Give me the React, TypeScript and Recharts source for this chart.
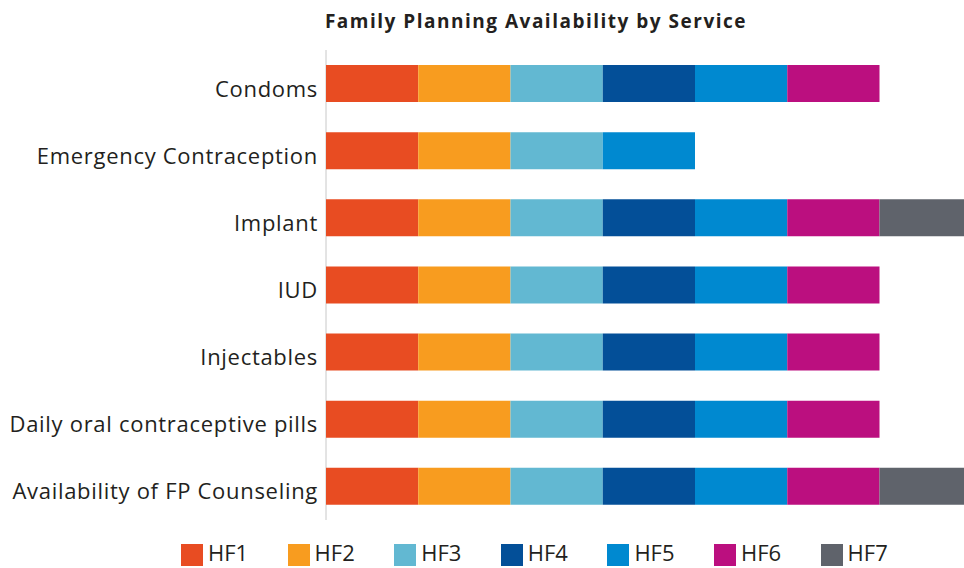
import { BarChart, Bar, XAxis, YAxis, CartesianGrid } from "recharts";

const SERVICES = [
  "Condoms",
  "Emergency Contraception",
  "Implant",
  "IUD",
  "Injectables",
  "Daily oral contraceptive pills",
  "Availability of FP Counseling",
];

// 1 = available at that facility, 0 = not
const HF1 = [1, 1, 1, 1, 1, 1, 1];
const HF2 = [1, 1, 1, 1, 1, 1, 1];
const HF3 = [1, 1, 1, 1, 1, 1, 1];
const HF4 = [1, 0, 1, 1, 1, 1, 1];
const HF5 = [1, 1, 1, 1, 1, 1, 1];
const HF6 = [1, 0, 1, 1, 1, 1, 1];
const HF7 = [0, 0, 1, 0, 0, 0, 1];

const X_TICKS = [0, 2, 4, 6, 8];

const SERIES = [
  { key: "HF1", values: HF1, color: "#e84c22" },
  { key: "HF2", values: HF2, color: "#f89c1f" },
  { key: "HF3", values: HF3, color: "#62b8d2" },
  { key: "HF4", values: HF4, color: "#034f98" },
  { key: "HF5", values: HF5, color: "#0089d0" },
  { key: "HF6", values: HF6, color: "#bb0f7f" },
  { key: "HF7", values: HF7, color: "#5f636b" },
];

const data = SERVICES.map((name, i) => {
  const row: Record<string, string | number> = { name };
  SERIES.forEach((s) => {
    row[s.key] = s.values[i];
  });
  return row;
});

const FONT = "'Open Sans', sans-serif";
const TEXT = "#231f20";

// eslint-disable-next-line @typescript-eslint/no-explicit-any
function ServiceTick({ x, y, payload }: any) {
  return (
    <text
      x={x}
      y={y}
      dy={13}
      textAnchor="end"
      fontSize={22}
      fill={TEXT}
      fontFamily={FONT}
      fontWeight={500}
      letterSpacing={0.7}
    >
      {payload.value}
    </text>
  );
}

export default function App() {
  return (
    <div
      style={{
        position: "fixed",
        top: 0,
        left: 0,
        width: 964,
        height: 568,
        overflow: "hidden",
        background: "#fff",
        fontFamily: FONT,
      }}
    >
      <div
        style={{
          position: "absolute",
          top: 8,
          left: 0,
          width: 1072,
          textAlign: "center",
          fontSize: 19,
          fontWeight: 700,
          letterSpacing: 1.5,
          color: TEXT,
        }}
      >
        Family Planning Availability by Service
      </div>
      <BarChart
        width={1064}
        height={568}
        data={data}
        layout="vertical"
        margin={{ top: 50, right: 0, left: 0, bottom: 48 }}
        barSize={37}
      >
        <CartesianGrid horizontal={false} stroke="#c8c8c8" />
        <XAxis
          type="number"
          domain={[0, 8]}
          ticks={X_TICKS}
          tick={false}
          tickLine={false}
          axisLine={false}
          height={0}
        />
        <YAxis
          type="category"
          dataKey="name"
          width={326}
          tickLine={false}
          axisLine={false}
          tick={<ServiceTick />}
        />
        {SERIES.map((s) => (
          <Bar
            key={s.key}
            dataKey={s.key}
            stackId="a"
            fill={s.color}
            isAnimationActive={false}
          />
        ))}
      </BarChart>
      {/* legend: swatches sit a little below the text box top */}
      <div
        style={{
          position: "absolute",
          top: 537,
          left: 181,
          display: "flex",
        }}
      >
        {SERIES.map((s) => (
          <div
            key={s.key}
            style={{ width: 106.6, display: "flex", alignItems: "flex-start" }}
          >
            <div
              style={{
                width: 22,
                height: 22,
                marginTop: 7,
                background: s.color,
                marginRight: 5,
              }}
            />
            <span style={{ fontSize: 22, color: TEXT, fontWeight: 500 }}>
              {s.key}
            </span>
          </div>
        ))}
      </div>
    </div>
  );
}
